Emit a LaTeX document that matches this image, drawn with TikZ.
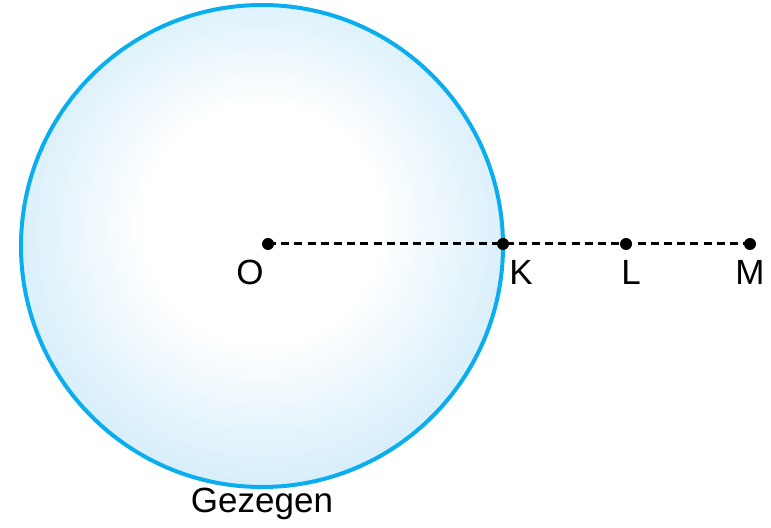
\documentclass[tikz,border=0pt]{standalone}
\usepackage{fontspec}
\setmainfont{Liberation Sans}
\usetikzlibrary{positioning,calc}
\definecolor{rimblue}{HTML}{0AAEEF}
\definecolor{planetblue}{HTML}{9AD5F3}
\pgfdeclareradialshading{planet}{\pgfpoint{0bp}{3bp}}{color(0bp)=(white); color(12bp)=(white); color(30bp)=(planetblue!50); color(47bp)=(planetblue); color(50bp)=(planetblue)}

\begin{document}
\begin{tikzpicture}[x=0.5pt, y=-0.5pt, font=\fontsize{17.5}{20}\selectfont,
  lbl/.style={inner sep=0pt, anchor=base}]
  \useasboundingbox (0,0) rectangle (771,528);
  % planet
  \shadedraw[shading=planet, draw=rimblue, line width=2pt] (262,246) circle (120.5pt);
  \node[lbl] (gez) at (262,513) {Gezegen};
  % points on the line
  \coordinate (O) at (268,244);
  \coordinate (K) at (503,244);
  \coordinate (L) at (626,244);
  \coordinate (M) at (750,244);
  \draw[line width=1.5pt, dash pattern=on 4pt off 2.6pt] (O) -- (M);
  \foreach \p in {O,K,L,M} \fill (\p) circle (3pt);
  \node[lbl] (Olbl) at (250,285) {O};
  \node[lbl] (Klbl) at (521,285) {K};
  \node[lbl] (Llbl) at (631,285) {L};
  \node[lbl] (Mlbl) at (750,285) {M};
\end{tikzpicture}
\end{document}
